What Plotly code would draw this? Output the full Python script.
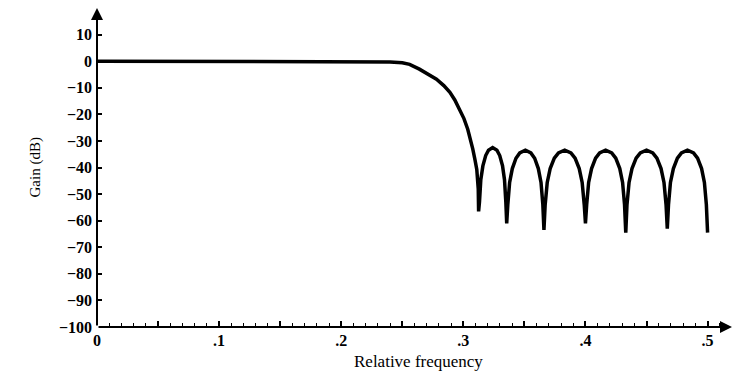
import plotly.graph_objects as go

# Gain response
freq = [
    0.0, 0.05, 0.10, 0.15, 0.20, 0.24, 0.25, 0.256, 0.264, 0.270, 0.278, 0.284, 0.289,
    0.293, 0.297, 0.3005, 0.3036, 0.306, 0.3077, 0.3095, 0.3110, 0.3122, 0.3125,
    0.3132, 0.3143, 0.3160, 0.3183, 0.3206, 0.3240, 0.3275, 0.3298, 0.3321, 0.3337, 0.3348,
    0.3355,
    0.3364, 0.3379, 0.3401, 0.3431, 0.3462, 0.3508, 0.3553, 0.3584, 0.3614, 0.3636, 0.3651,
    0.3660,
    0.3670, 0.3687, 0.3711, 0.3745, 0.3779, 0.3830, 0.3881, 0.3915, 0.3949, 0.3973, 0.3990,
    0.4000,
    0.4010, 0.4026, 0.4050, 0.4083, 0.4116, 0.4165, 0.4215, 0.4248, 0.4281, 0.4304, 0.4320,
    0.4330,
    0.4340, 0.4357, 0.4381, 0.4415, 0.4449, 0.4500, 0.4551, 0.4585, 0.4619, 0.4643, 0.4660,
    0.4670,
    0.4680, 0.4696, 0.4720, 0.4753, 0.4786, 0.4835, 0.4885, 0.4918, 0.4951, 0.4974, 0.4990,
    0.5000,
]
gain_db = [
    0.0, 0.0, 0.0, 0.0, 0.0, -0.3, -0.6, -1.2, -3.0, -4.6, -6.8, -9.2, -11.7,
    -14.6, -18.0, -21.6, -25.6, -29.4, -33.0, -37.0, -40.7, -48.0, -56.5,
    -53.0, -44.6, -39.4, -35.5, -33.5, -32.5, -33.5, -35.5, -39.4, -44.6, -53.0,
    -61.0,
    -54.0, -45.6, -40.4, -36.5, -34.5, -33.5, -34.5, -36.5, -40.4, -45.6, -54.0,
    -63.5,
    -54.0, -45.6, -40.4, -36.5, -34.5, -33.5, -34.5, -36.5, -40.4, -45.6, -54.0,
    -61.0,
    -54.0, -45.6, -40.4, -36.5, -34.5, -33.5, -34.5, -36.5, -40.4, -45.6, -54.0,
    -64.5,
    -54.0, -45.6, -40.4, -36.5, -34.5, -33.5, -34.5, -36.5, -40.4, -45.6, -54.0,
    -63.0,
    -54.0, -45.6, -40.4, -36.5, -34.5, -33.5, -34.5, -36.5, -40.4, -45.6, -54.0,
    -64.5,
]

x_tickvals = [0, 0.05, 0.1, 0.15, 0.2, 0.25, 0.3, 0.35, 0.4, 0.45, 0.5]
x_ticktext = ["0", "", ".1", "", ".2", "", ".3", "", ".4", "", ".5"]
y_tickvals = [10, 0, -10, -20, -30, -40, -50, -60, -70, -80, -90, -100]
y_ticktext = ["10", "0", "\u221210", "\u221220", "\u221230", "\u221240", "\u221250",
              "\u221260", "\u221270", "\u221280", "\u221290", "\u2212100"]

FONT = "Liberation Serif"
L, R, T, B = 97, 19, 8, 58
PW = 751 - L - R
PH = 385 - T - B

fig = go.Figure()
fig.add_trace(go.Scatter(x=freq, y=gain_db, mode="lines",
                         line=dict(color="black", width=3.5),
                         hoverinfo="skip", showlegend=False))

fig.update_layout(
    width=751, height=385,
    margin=dict(l=L, r=R, t=T, b=B),
    paper_bgcolor="white", plot_bgcolor="white",
    xaxis=dict(range=[0, 0.52], showgrid=False, zeroline=False, showline=False,
               tickmode="array", tickvals=x_tickvals, ticktext=x_ticktext,
               ticks="inside", ticklen=6, tickwidth=1.5, tickcolor="black",
               minor=dict(tick0=0, dtick=0.01, ticks="inside", ticklen=4,
                          tickwidth=1.3, tickcolor="black", showgrid=False),
               tickfont=dict(family=FONT, size=16, color="black", weight="bold"),
               ticklabelstandoff=2),
    yaxis=dict(range=[-100, 20], showgrid=False, zeroline=False, showline=False,
               tickmode="array", tickvals=y_tickvals, ticktext=y_ticktext,
               ticks="inside", ticklen=5, tickwidth=1.5, tickcolor="black",
               tickfont=dict(family=FONT, size=16, color="black", weight="bold"),
               ticklabelstandoff=4),
)

# axis lines with arrowheads
fig.add_annotation(x=0, y=20, ax=0, ay=-100, xref="x", yref="y", axref="x", ayref="y",
                   text="", showarrow=True, arrowhead=2, arrowsize=1.2, arrowwidth=2,
                   arrowcolor="black")
fig.add_annotation(x=0.52, y=-100, ax=0, ay=-100, xref="x", yref="y", axref="x", ayref="y",
                   text="", showarrow=True, arrowhead=2, arrowsize=1.2, arrowwidth=2,
                   arrowcolor="black")

fig.add_annotation(x=0.523, y=-100, xref="x", yref="y", xanchor="left", yanchor="middle",
                   text="<i>f</i>", showarrow=False,
                   font=dict(family=FONT, size=18, color="black"))
fig.add_annotation(x=(418 - L) / PW, y=(385 - B - 373) / PH, xref="paper", yref="paper",
                   showarrow=False, text="Relative frequency",
                   font=dict(family=FONT, size=17, color="black"))
fig.add_annotation(x=(25 - L) / PW, y=(385 - B - 168) / PH, xref="paper", yref="paper",
                   showarrow=False, text="Gain (dB)", textangle=-90,
                   font=dict(family=FONT, size=15, color="black"))

fig.write_html("out.html", config={"displayModeBar": False},
               post_script="document.body.style.margin='0';")
